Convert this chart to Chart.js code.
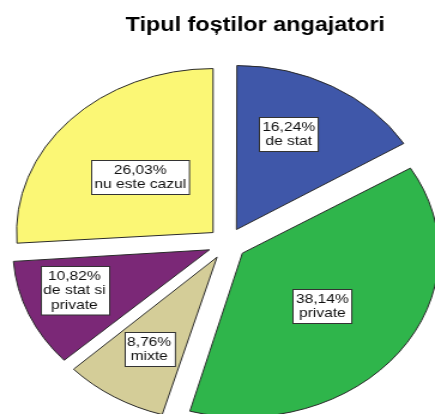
<!DOCTYPE html>
<html>
<head>
<meta charset="utf-8">
<script src="https://cdn.jsdelivr.net/npm/chart.js@4"></script>
<style>
  html, body { margin: 0; padding: 0; background: #fff; overflow: hidden; }
  /* the reference pie is stretched sideways, so the whole canvas is too */
  #wrap { width: 363px; height: 414px; transform: scaleX(1.1983); transform-origin: 0 0; }
</style>
</head>
<body>
<div id="wrap"><canvas id="employerChart"></canvas></div>
<script>
const chartTitle = "Tipul foștilor angajatori";
const categories = ["de stat", "private", "mixte", ["de stat si", "private"], "nu este cazul"];
const percentages = [16.24, 38.14, 8.76, 10.82, 26.03];
const sliceColors = ["#3f57a9", "#2fb54b", "#d4cd98", "#7b2877", "#fbf775"];

// where each label box sits in its slice: share of radius / share of sweep
const labelRadius = [0.64, 0.52, 0.66, 0.73, 0.5];
const labelSweep = [0.42, 0.51, 0.5, 0.59, 0.49];

const pieRadius = 164;
const explode = 64; // chart.js moves a slice by offset / 4

// chart.js also grows narrow exploded slices; undo that so all share one radius
const evenRadius = {
  id: "evenRadius",
  afterDatasetUpdate(chart, args) {
    args.meta.data.forEach((arc) => {
      const fix = 1 - Math.sin(Math.min(Math.PI, arc.circumference || 0));
      arc.outerRadius = pieRadius - (explode / 4) * fix;
    });
  }
};

const titlePlugin = {
  id: "titleText",
  afterDraw(chart) {
    const ctx = chart.ctx;
    ctx.save();
    ctx.font = "bold 19.5px 'Liberation Sans', Arial, sans-serif";
    ctx.fillStyle = "#000";
    ctx.textAlign = "center";
    ctx.textBaseline = "alphabetic";
    ctx.fillText(chartTitle, 213, 30.5);
    ctx.restore();
  }
};

const sliceLabels = {
  id: "sliceLabels",
  afterDatasetsDraw(chart) {
    const ctx = chart.ctx;
    const meta = chart.getDatasetMeta(0);
    ctx.save();
    ctx.font = "13px 'Liberation Sans', Arial, sans-serif";
    ctx.textAlign = "center";
    ctx.textBaseline = "middle";
    meta.data.forEach((arc, i) => {
      const { x, y, startAngle, endAngle } =
        arc.getProps(["x", "y", "startAngle", "endAngle"], true);
      const shift = (arc.options.offset || 0) / 4;
      const mid = (startAngle + endAngle) / 2;
      const ang = startAngle + (endAngle - startAngle) * labelSweep[i];
      const cx = x + Math.cos(mid) * shift + Math.cos(ang) * pieRadius * labelRadius[i];
      const cy = y + Math.sin(mid) * shift + Math.sin(ang) * pieRadius * labelRadius[i];

      const lines = [percentages[i].toFixed(2).replace(".", ",") + "%"].concat(categories[i]);
      const lineH = 14.5;
      const w = Math.max(...lines.map((l) => ctx.measureText(l).width)) + 5;
      const h = lines.length * lineH + 5;
      const bx = Math.round(cx - w / 2) + 0.5;
      const by = Math.round(cy - h / 2) + 0.5;
      ctx.fillStyle = "#fff";
      ctx.fillRect(bx, by, w, h);
      ctx.strokeStyle = "#333";
      ctx.lineWidth = 1;
      ctx.strokeRect(bx, by, w, h);
      ctx.fillStyle = "#111";
      lines.forEach((l, k) => ctx.fillText(l, cx, by + 2.5 + lineH * (k + 0.5)));
    });
    ctx.restore();
  }
};

const ctx = document.getElementById("employerChart").getContext("2d");
new Chart(ctx, {
  type: "pie",
  data: {
    labels: categories,
    datasets: [
      {
        data: percentages,
        backgroundColor: sliceColors,
        borderColor: "#2a2a2a",
        borderWidth: 1,
        offset: explode,
        radius: pieRadius,
        clip: false,
      },
    ],
  },
  options: {
    responsive: true,
    maintainAspectRatio: false,
    animation: false,
    layout: { padding: { left: 16, right: 0, top: 73, bottom: 0 } },
    plugins: {
      legend: { display: false },
      tooltip: { enabled: false },
      title: { display: false },
    },
  },
  plugins: [evenRadius, titlePlugin, sliceLabels],
});
</script>
</body>
</html>
